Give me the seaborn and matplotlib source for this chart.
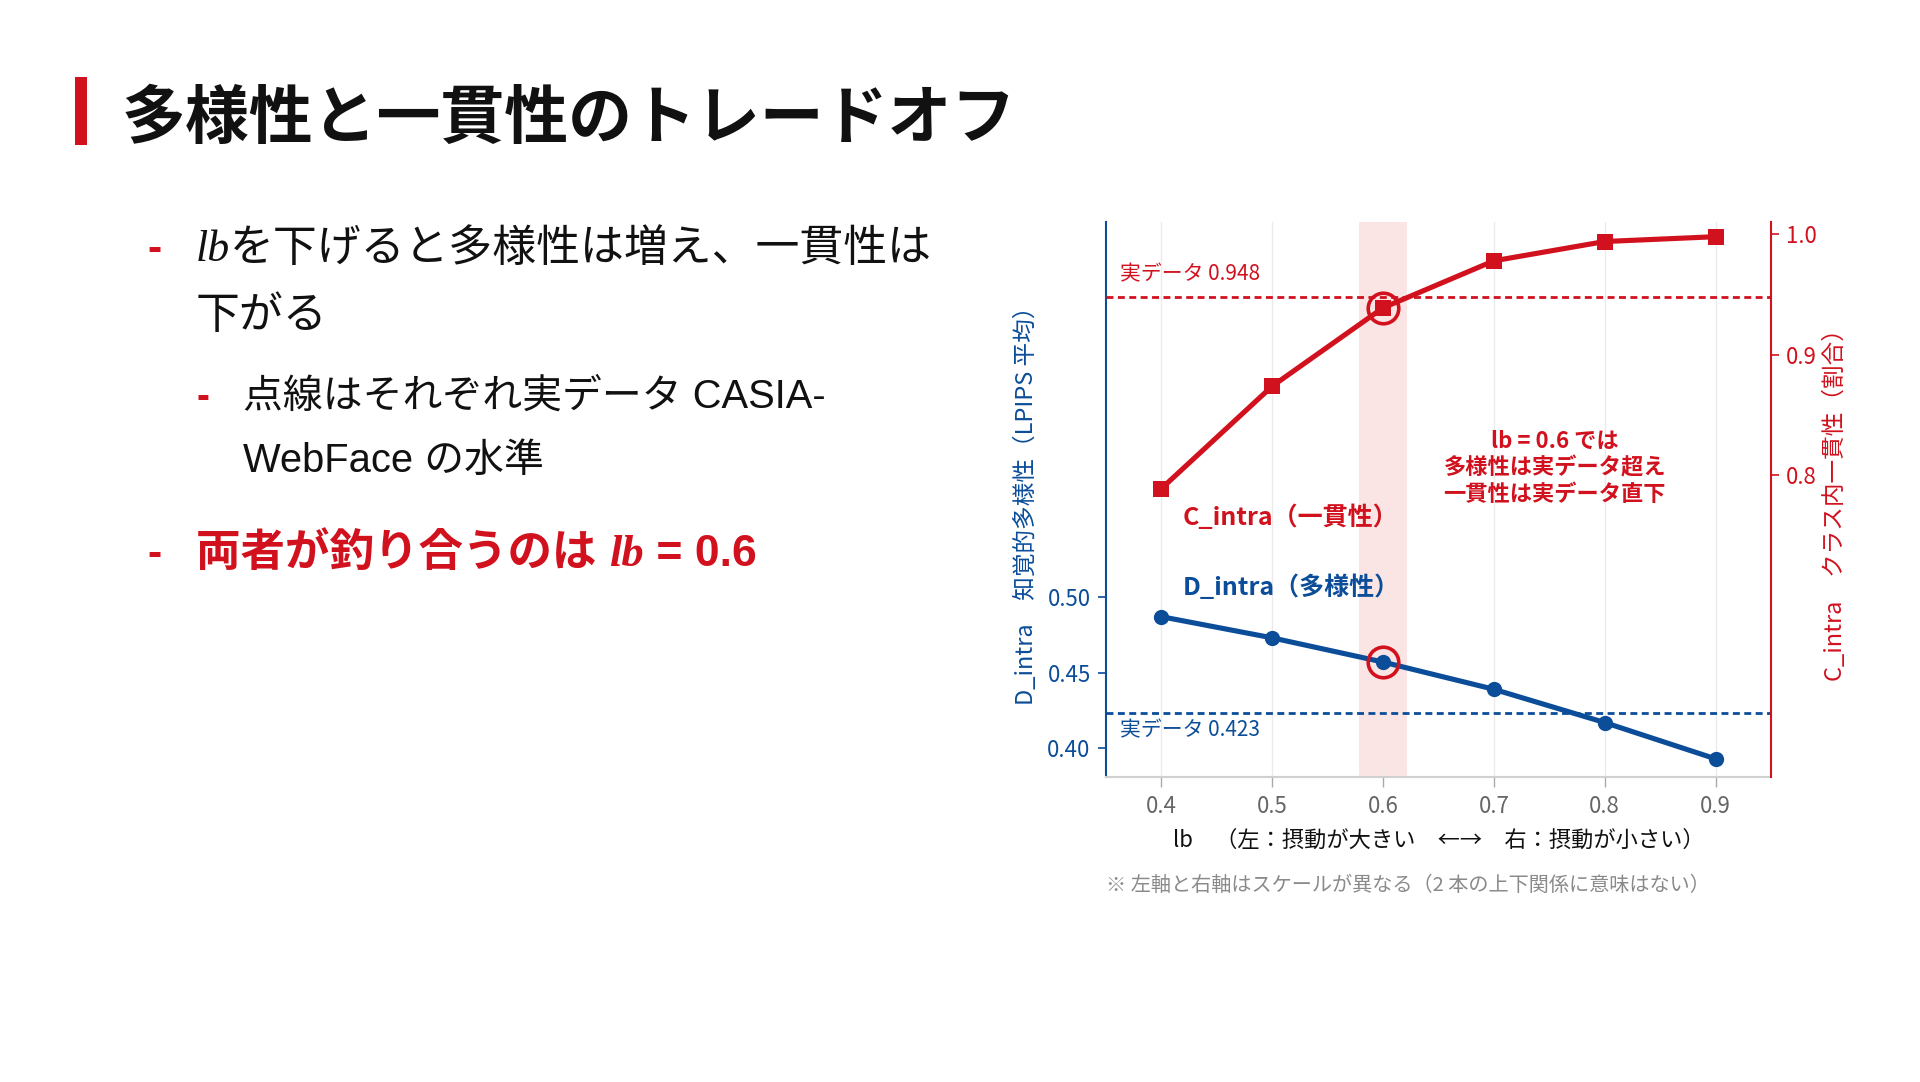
"""Diversity / consistency trade-off slide."""

import matplotlib
matplotlib.use("Agg")
import matplotlib.pyplot as plt
from matplotlib.patches import Rectangle
import seaborn as sns

# data
lb = [0.4, 0.5, 0.6, 0.7, 0.8, 0.9]
d_intra = [0.487, 0.473, 0.457, 0.439, 0.417, 0.393]
c_intra = [0.789, 0.874, 0.939, 0.978, 0.994, 0.998]
real_d = 0.423
real_c = 0.948
balance_lb = 0.6
x_ticks = [0.4, 0.5, 0.6, 0.7, 0.8, 0.9]
d_ticks = [0.40, 0.45, 0.50]
c_ticks = [0.8, 0.9, 1.0]

BLUE = "#0b4d99"
RED = "#d1121e"
JP = ["Noto Sans CJK JP", "DejaVu Sans"]
SLIDE = ["Liberation Sans", "Noto Sans CJK JP"]
ITAL = ["Liberation Serif", "DejaVu Serif"]

sns.set_style("ticks")
plt.rcParams["font.family"] = JP
plt.rcParams["axes.unicode_minus"] = False

W, H = 1920, 1082
fig = plt.figure(figsize=(W / 100, H / 100), dpi=100)
renderer = fig.canvas.get_renderer()


def fx(px):
    return px / W


def fy(py):
    return 1 - py / H


def text_runs(x_px, base_px, runs, size):
    """Write pieces of text one after another on the same baseline."""
    x = fx(x_px)
    for s, style in runs:
        t = fig.text(x, fy(base_px), s, fontsize=size, va="baseline", ha="left", **style)
        x += t.get_window_extent(renderer).width / W


# ---- title ----
fig.add_artist(Rectangle((fx(75), fy(145)), fx(12), 68 / H,
                         transform=fig.transFigure, color=RED, lw=0))
fig.text(fx(122), fy(138), "多様性と一貫性のトレードオフ", fontsize=46,
         fontweight="bold", va="baseline", ha="left", color="#111111", family=JP)

# ---- bullets ----
normal = {"family": SLIDE, "color": "#111111"}
ital = {"family": ITAL, "style": "italic", "color": "#111111"}
red_bold = {"family": SLIDE, "color": RED, "fontweight": "bold"}
red_ital = {"family": ITAL, "style": "italic", "color": RED, "fontweight": "bold"}

fig.text(fx(147), fy(261), "-", fontsize=31, va="baseline", color=RED,
         family=SLIDE, fontweight="bold")
text_runs(196, 261, [("lb", ital), ("を下げると多様性は増え、一貫性は", normal)], 31.6)
text_runs(196, 328, [("下がる", normal)], 31.6)

fig.text(fx(197), fy(408), "-", fontsize=28, va="baseline", color=RED,
         family=SLIDE, fontweight="bold")
text_runs(243, 408, [("点線はそれぞれ実データ CASIA-", normal)], 28.7)
text_runs(243, 472, [("WebFace の水準", normal)], 28.7)

fig.text(fx(147), fy(566), "-", fontsize=31, va="baseline", color=RED,
         family=SLIDE, fontweight="bold")
text_runs(196, 566, [("両者が釣り合うのは ", red_bold), ("lb", red_ital),
                     (" = 0.6", red_bold)], 32)

# ---- chart ----
ax = fig.add_axes([fx(1106), fy(777), fx(1771) - fx(1106), fy(222) - fy(777)])
ax2 = ax.twinx()
bi = lb.index(balance_lb)

ax.set_axisbelow(True)
ax.grid(axis="x", color="#ebebeb", lw=1)
ax.axvspan(balance_lb - 0.022, balance_lb + 0.022, color="#fbe4e4", lw=0, zorder=0)

sns.lineplot(x=lb, y=d_intra, ax=ax, color=BLUE, linewidth=3.7, marker="o",
             markersize=11, markeredgewidth=0, zorder=3)
ax.plot([lb[bi]], [d_intra[bi]], marker="o", markersize=22, markerfacecolor="none",
        markeredgecolor=RED, markeredgewidth=2.6, zorder=4)
ax.axhline(real_d, color=BLUE, ls=(0, (2.5, 1.6)), lw=2, zorder=2)

sns.lineplot(x=lb, y=c_intra, ax=ax2, color=RED, linewidth=3.7, marker="s",
             markersize=11, markeredgewidth=0, zorder=3)
ax2.plot([lb[bi]], [c_intra[bi]], marker="o", markersize=22, markerfacecolor="none",
         markeredgecolor=RED, markeredgewidth=2.6, zorder=4)
ax2.axhline(real_c, color=RED, ls=(0, (2.5, 1.6)), lw=2, zorder=2)

ax.set_xlim(0.35, 0.95)
ax.set_ylim(0.381, 0.748)
ax2.set_ylim(0.5496, 1.0102)

ax.set_xticks(x_ticks)
ax.set_xticklabels([f"{v:.1f}" for v in x_ticks])
ax.set_yticks(d_ticks)
ax.set_yticklabels([f"{v:.2f}" for v in d_ticks])
ax2.set_yticks(c_ticks)
ax2.set_yticklabels([f"{v:.1f}" for v in c_ticks])

ax.tick_params(axis="x", color="#aaaaaa", labelcolor="#666666", length=7, width=1,
               labelsize=16, pad=6)
ax.tick_params(axis="y", color=BLUE, labelcolor=BLUE, length=6, width=1.2,
               labelsize=16, pad=5)
ax2.tick_params(axis="y", color=RED, labelcolor=RED, length=6, width=1.2,
                labelsize=16, pad=5)

for s in ("top", "right"):
    ax.spines[s].set_visible(False)
for s in ("top", "left", "bottom"):
    ax2.spines[s].set_visible(False)
ax.spines["left"].set_color(BLUE)
ax.spines["left"].set_linewidth(1.5)
ax.spines["bottom"].set_color("#d0d0d0")
ax.spines["bottom"].set_linewidth(1.5)
ax2.spines["right"].set_color(RED)
ax2.spines["right"].set_linewidth(1.5)

ax.set_xlabel("lb　（左：摂動が大きい　←→　右：摂動が小さい）", fontsize=16,
              color="#111111", labelpad=8)
ax.set_ylabel("D_intra　知覚的多様性（LPIPS 平均）", fontsize=17, color=BLUE)
ax.yaxis.set_label_coords(-0.102, 0.5)
ax2.set_ylabel("C_intra　クラス内一貫性（割合）", fontsize=17, color=RED)
ax2.yaxis.set_label_coords(1.08, 0.5)

# reference levels and series labels
ax2.text(0.363, real_c + 0.019, f"実データ {real_c:.3f}", color=RED, fontsize=15,
         va="center", ha="left")
ax.text(0.363, real_d - 0.011, f"実データ {real_d:.3f}", color=BLUE, fontsize=15,
        va="center", ha="left")
ax2.text(0.419, 0.765, "C_intra（一貫性）", color=RED, fontsize=18,
         fontweight="bold", va="center", ha="left")
ax.text(0.419, 0.5066, "D_intra（多様性）", color=BLUE, fontsize=18,
        fontweight="bold", va="center", ha="left")
ax2.text(0.755, 0.806, f"lb = {balance_lb} では\n多様性は実データ超え\n一貫性は実データ直下",
         color=RED, fontsize=16, fontweight="bold", va="center", ha="center",
         multialignment="center")

fig.text(fx(1106), fy(885), "※ 左軸と右軸はスケールが異なる（2 本の上下関係に意味はない）",
         fontsize=14.5, color="#8a8a8a", va="center", ha="left")

fig.savefig("out.png", dpi=100, facecolor="white")
